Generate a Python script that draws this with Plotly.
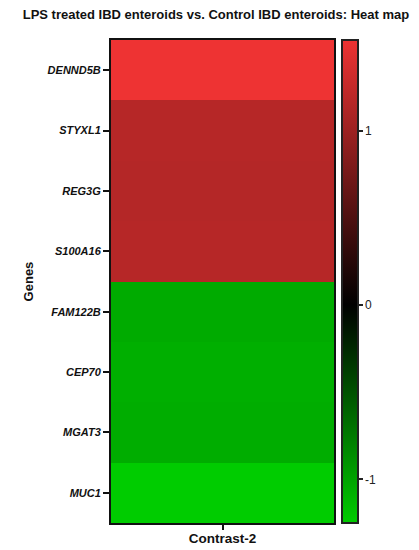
import plotly.graph_objects as go

genes = ['DENND5B', 'STYXL1', 'REG3G', 'S100A16', 'FAM122B', 'CEP70', 'MGAT3', 'MUC1']
contrast = ['Contrast-2']
log_fc = [1.52, 1.16, 1.15, 1.16, -1.05, -1.07, -1.06, -1.25]
cb_ticks = [-1, 0, 1]

zmin, zmax = -1.25, 1.52
mid = (0 - zmin) / (zmax - zmin)
scale = [[0, '#00cc00'], [mid, '#000000'], [1, '#ee3333']]

heat = go.Heatmap(
    z=[[v] for v in log_fc],
    x=contrast,
    y=genes,
    zmin=zmin, zmax=zmax,
    colorscale=scale,
    colorbar=dict(
        x=1.036, xanchor='left', xpad=0,
        y=0.5, yanchor='middle', len=1.0, lenmode='fraction', ypad=0,
        thickness=16,
        outlinecolor='#222', outlinewidth=2,
        tickvals=cb_ticks, ticktext=['-1', '0', '1'],
        ticks='outside', ticklen=4, tickcolor='#222', tickwidth=1.5,
        tickfont=dict(family='Liberation Sans, Arial', size=12, color='#222'),
    ),
)

fig = go.Figure(data=[heat])
# page body has an 8px margin, so the figure is 8px smaller and shifted
fig.update_layout(
    width=411, height=542,
    margin=dict(l=103, r=85, t=32, b=27, autoexpand=False),
    paper_bgcolor='white', plot_bgcolor='white',
    title=dict(text='LPS treated IBD enteroids vs. Control IBD enteroids: Heat map',
               x=0.506, xanchor='center', y=0.989, yanchor='middle',
               font=dict(family='Liberation Sans, Arial', size=13, color='#111', weight='bold')),
    font=dict(family='Liberation Sans, Arial', color='#111'),
)
fig.update_xaxes(showline=True, mirror=True, linecolor='#111', linewidth=2, automargin=False,
                 ticks='outside', ticklen=5, tickwidth=2, tickcolor='#111',
                 ticklabelstandoff=-3,
                 tickfont=dict(size=13.5, weight='bold', color='#111'))
fig.update_yaxes(autorange='reversed', showline=True, mirror=True, linecolor='#111', linewidth=2,
                 ticks='outside', ticklen=6, tickwidth=2, tickcolor='#111',
                 tickfont=dict(size=11, weight='bold', style='italic', color='#111'),
                 title=dict(text='Genes', standoff=11,
                            font=dict(size=13, weight='bold', color='#111')))

fig.write_html('out.html')
